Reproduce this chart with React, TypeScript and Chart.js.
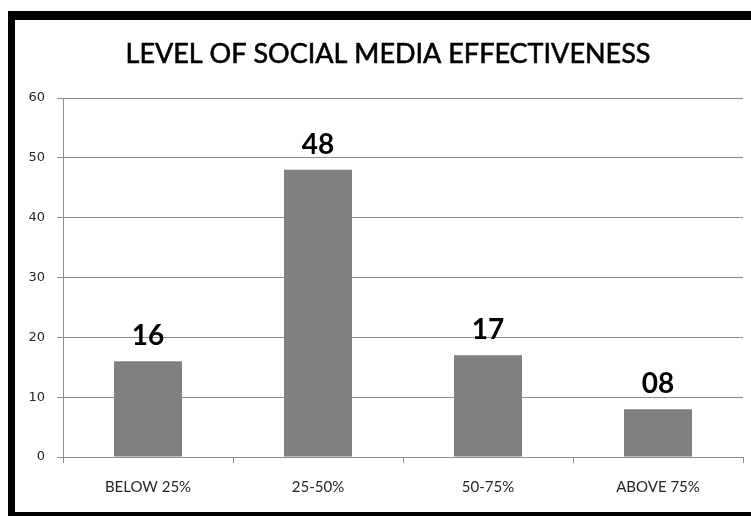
import React, { useEffect, useRef } from "react";
import { Chart, registerables } from "chart.js";

Chart.register(...registerables);

const chartTitle = "LEVEL OF SOCIAL MEDIA EFFECTIVENESS";
const categories = ["BELOW 25%", "25-50%", "50-75%", "ABOVE 75%"];
const values = [16, 48, 17, 8];
const valueLabels = ["16", "48", "17", "08"];
const yMin = 0;
const yMax = 60;
const yStep = 10;

const titlePlugin = {
  id: "customTitle",
  afterDraw(chart: any) {
    const ctx = chart.ctx;
    ctx.save();
    ctx.font = "27px Lato";
    ctx.fillStyle = "#000000";
    ctx.textAlign = "center";
    ctx.textBaseline = "alphabetic";
    ctx.fillText(chartTitle, 373, 43);
    ctx.lineWidth = 0.6;
    ctx.strokeStyle = "#000000";
    ctx.strokeText(chartTitle, 373, 43);
    ctx.restore();
  },
};

const valueLabelPlugin = {
  id: "valueLabels",
  afterDatasetsDraw(chart: any) {
    const ctx = chart.ctx;
    const meta = chart.getDatasetMeta(0);
    ctx.save();
    ctx.font = "bold 28px Lato";
    ctx.fillStyle = "#000000";
    ctx.textAlign = "center";
    ctx.textBaseline = "alphabetic";
    meta.data.forEach((bar: any, i: number) => {
      ctx.fillText(valueLabels[i], bar.x, bar.y - 16);
    });
    ctx.restore();
  },
};

export default function App() {
  const ref = useRef<HTMLCanvasElement | null>(null);

  useEffect(() => {
    if (!ref.current) return;
    const chart = new Chart(ref.current, {
      type: "bar",
      data: {
        labels: categories,
        datasets: [
          {
            data: values,
            backgroundColor: "#808080",
            borderWidth: 0,
            barPercentage: 0.4,
            categoryPercentage: 1,
          },
        ],
      },
      options: {
        responsive: false,
        animation: false,
        devicePixelRatio: 1,
        layout: { padding: { top: 78, right: 8, bottom: 0, left: 0 } },
        plugins: {
          legend: { display: false },
          title: { display: false },
          tooltip: { enabled: false },
        },
        scales: {
          x: {
            grid: {
              display: true,
              drawOnChartArea: false,
              drawTicks: true,
              tickLength: 6,
              offset: true,
              color: "#8c8c8c",
            },
            border: { display: true, color: "#8c8c8c" },
            ticks: {
              color: "#262626",
              font: { family: "Lato", size: 15 },
              padding: 15,
              maxRotation: 0,
            },
            afterFit(scale: any) {
              scale.height = 55;
            },
          },
          y: {
            min: yMin,
            max: yMax,
            grid: {
              color: "#8c8c8c",
              tickLength: 6,
              drawTicks: true,
            },
            border: { display: true, color: "#8c8c8c" },
            ticks: {
              stepSize: yStep,
              color: "#262626",
              font: { family: "DejaVu Sans", size: 13 },
              padding: 12,
            },
            afterFit(scale: any) {
              scale.width = 48;
            },
          },
        },
      },
      plugins: [titlePlugin, valueLabelPlugin],
    });
    return () => chart.destroy();
  }, []);

  return (
    <div
      style={{
        position: "absolute",
        left: 8,
        top: 11,
        width: 736,
        height: 492,
        borderLeft: "7px solid #000",
        borderTop: "9px solid #000",
        borderBottom: "4px solid #000",
        background: "#fff",
      }}
    >
      <canvas
        ref={ref}
        width={736}
        height={492}
        style={{ display: "block", width: 736, height: 492 }}
      />
    </div>
  );
}
